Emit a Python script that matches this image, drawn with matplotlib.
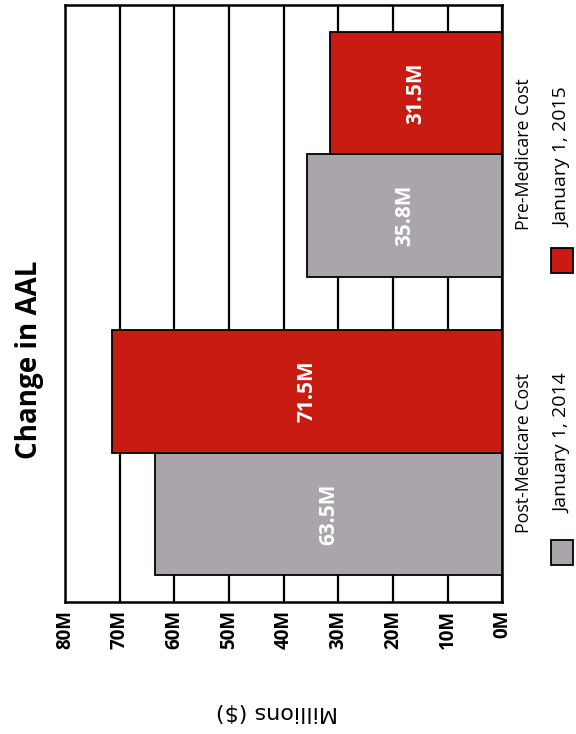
'''AAL change by cost component, drawn sideways.'''

import numpy as np
import matplotlib
matplotlib.use('Agg')
import matplotlib.pyplot as plt
from matplotlib.patches import Rectangle

plt.rcParams['font.family'] = ['Open Sans', 'DejaVu Sans']

categories = ['Post-Medicare Cost', 'Pre-Medicare Cost']
series_names = ['January 1, 2014', 'January 1, 2015']
aal_2014 = [63.5, 35.8]
aal_2015 = [71.5, 31.5]
ticks = np.arange(0, 81, 10)

GRAY = '#a9a5ab'
RED = '#c81c12'

fig = plt.figure(figsize=(5.76, 7.34), dpi=100)
ax = fig.add_axes([0.113, 0.180, 0.759, 0.813])

y = np.arange(len(categories))
h = 0.41
ax.barh(y - h / 2, aal_2014, height=h, color=GRAY, edgecolor='black',
        linewidth=1.3, zorder=3)
ax.barh(y + h / 2, aal_2015, height=h, color=RED, edgecolor='black',
        linewidth=1.3, zorder=3)

# value labels in the middle of each bar
for vals, off in ((aal_2014, -h / 2), (aal_2015, h / 2)):
    for yy, v in zip(y, vals):
        ax.text(v / 2, yy + off, '{0}M'.format(v), rotation=90,
                ha='center', va='center', color='white',
                fontsize=15, fontweight='bold', zorder=4)

ax.set_xlim(80, 0)
ax.set_ylim(-0.5, 1.5)
ax.set_xticks(ticks)
ax.set_xticklabels(['{0}M'.format(t) for t in ticks], rotation=90,
                   fontsize=13.5, fontweight='bold')
ax.tick_params(axis='x', length=0, pad=6)

ax.yaxis.tick_right()
ax.set_yticks(y)
ax.set_yticklabels(categories, rotation=90, va='center', fontsize=12.8)
ax.tick_params(axis='y', length=0, pad=9)

ax.xaxis.grid(True, color='black', linewidth=1.6)
ax.set_axisbelow(True)
for sp in ax.spines.values():
    sp.set_linewidth(1.8)
    sp.set_color('black')

fig.text(0.051, 0.51, 'Change in AAL', rotation=90, ha='center',
         va='center', fontsize=20, fontweight='bold')
fig.text(0.480, 0.030, 'Millions ($)', rotation=180, ha='center',
         va='center', fontsize=16, family=['DejaVu Sans'])

# legend, stacked along the right edge
for name, col, sq_bottom, txt_bottom in ((series_names[0], GRAY, 0.230, 0.301),
                                         (series_names[1], RED, 0.628, 0.691)):
    fig.patches.append(Rectangle((0.9566, sq_bottom), 0.038, 0.034,
                                 transform=fig.transFigure, facecolor=col,
                                 edgecolor='black', linewidth=1.3))
    fig.text(0.9757, txt_bottom, name, rotation=90, ha='center',
             va='bottom', fontsize=14)

fig.savefig('out.png', dpi=100)
